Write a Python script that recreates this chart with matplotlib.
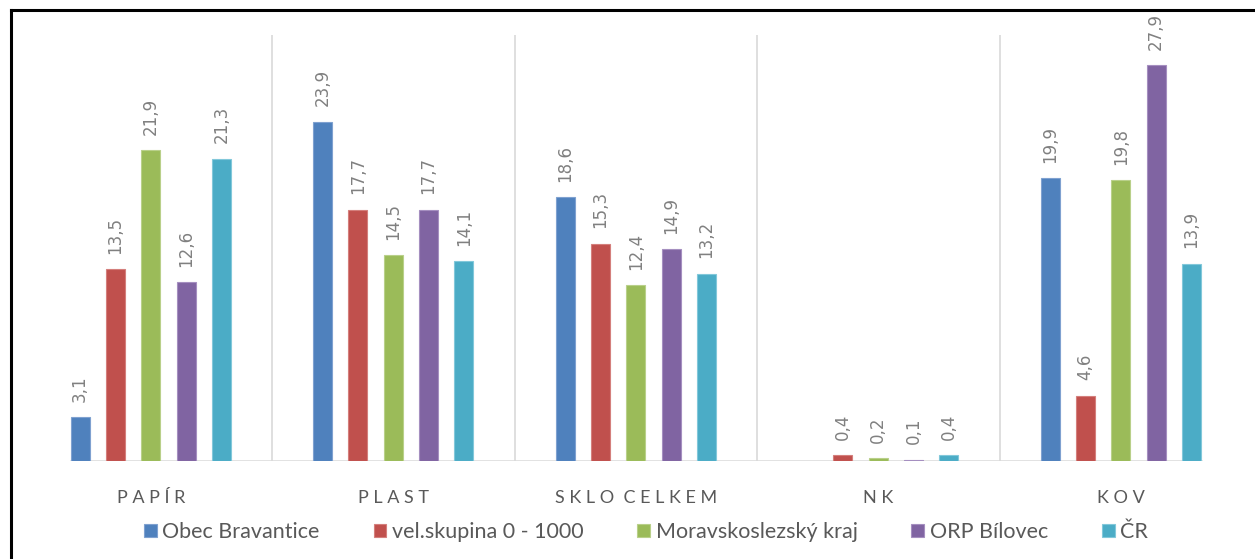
import numpy as np
from matplotlib import pyplot as plt
from matplotlib.lines import Line2D

plt.rcParams.update({
    "font.family": ["Lato", "DejaVu Sans"],
})

categories = ["P A P Í R", "P L A S T", "S K L O  C E L K E M", "N K", "K O V"]
series = ["Obec Bravantice", "vel.skupina 0 - 1000", "Moravskoslezský kraj", "ORP Bílovec", "ČR"]

obec = [3.1, 23.9, 18.6, np.nan, 19.9]
velskupina = [13.5, 17.7, 15.3, 0.4, 4.6]
msk = [21.9, 14.5, 12.4, 0.2, 19.8]
orp = [12.6, 17.7, 14.9, 0.1, 27.9]
cr = [21.3, 14.1, 13.2, 0.4, 13.9]

values = [obec, velskupina, msk, orp, cr]
colors = ["#4F81BD", "#C0504D", "#9BBB59", "#8064A2", "#4BACC6"]
edges = ["#7FA1D0", "#D47F7C", "#B9D08A", "#A58FC0", "#82C8DA"]

STEP = 0.1456
WIDTH = 0.078


def main():
    fig = plt.figure(figsize=(12.55, 5.59), dpi=100)
    ax = fig.add_axes([29.5 / 1255, 1 - 461 / 559, 1212.5 / 1255, 426 / 559])

    x = np.arange(len(categories))
    handles = []
    for i, (vals, col, ec) in enumerate(zip(values, colors, edges)):
        pos = x + (i - 2) * STEP
        bars = ax.bar(pos, vals, width=WIDTH, color=col, edgecolor=ec,
                      linewidth=0.8, label=series[i], zorder=3)
        handles.append(bars)
        for px, v in zip(pos, vals):
            if np.isnan(v):
                continue
            ax.annotate(f"{v:.1f}".replace(".", ","), (px, v),
                        xytext=(0, 11), textcoords="offset points",
                        rotation=90, ha="center", va="bottom",
                        fontsize=12, color="#808080", family="DejaVu Sans")

    # group separators
    for b in x[:-1] + 0.5:
        ax.plot([b, b], [0, 30], color="#d9d9d9", linewidth=1.2, zorder=1)

    left = x[0] - 2 * STEP - WIDTH / 2
    right = x[-1] + 2 * STEP + WIDTH / 2
    ax.plot([left, right], [0, 0], color="#d9d9d9", linewidth=1.8, zorder=2)

    ax.set_xlim(-0.5, len(categories) - 0.5)
    ax.set_ylim(0, 30)
    ax.set_yticks([])
    ax.set_xticks(x)
    ax.set_xticklabels(categories, fontsize=13, color="#595959")
    ax.tick_params(axis="x", length=0, pad=21)
    for s in ax.spines.values():
        s.set_visible(False)

    leg = fig.legend(handles=handles, labels=series, loc="center",
                     bbox_to_anchor=(646 / 1255, 1 - 532 / 559), ncol=5,
                     frameon=False, fontsize=15.5, handlelength=0.6,
                     handleheight=0.6, handletextpad=0.25, columnspacing=2.5)
    for t in leg.get_texts():
        t.set_color("#595959")

    # outer border (left and top only visible)
    fig.add_artist(Line2D([11 / 1255, 11 / 1255], [0, 1 - 10 / 559],
                          color="black", linewidth=2.2))
    fig.add_artist(Line2D([11 / 1255, 1], [1 - 10 / 559, 1 - 10 / 559],
                          color="black", linewidth=2.2))

    fig.savefig("out.png", dpi=100)


main()
